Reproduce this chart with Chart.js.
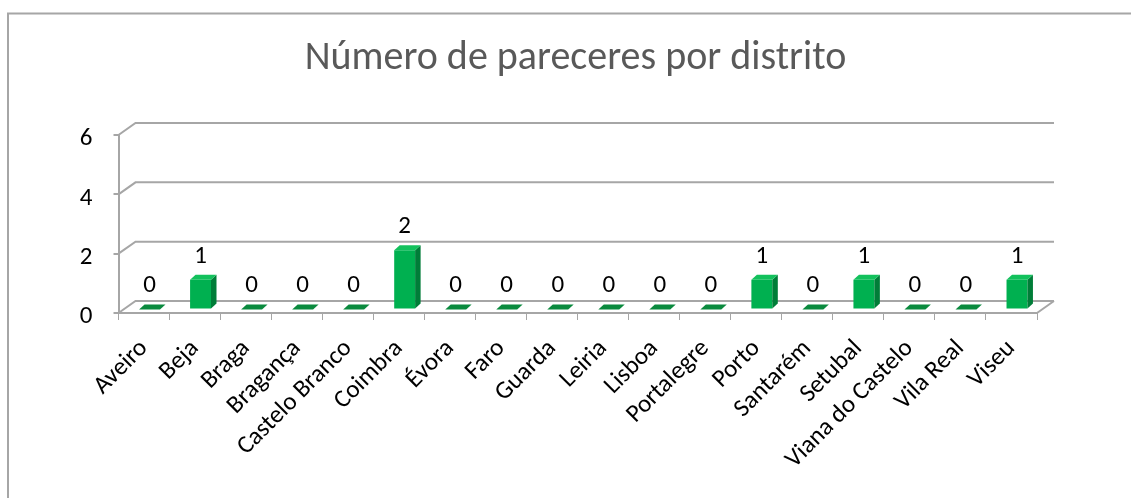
<!DOCTYPE html>
<html><head><meta charset="utf-8">
<script src="https://cdn.jsdelivr.net/npm/chart.js@4"></script>
<style>html,body{margin:0;padding:0;background:#fff;overflow:hidden}#wrap{position:relative;width:1131px;height:498px}</style>
</head><body><div id="wrap"><canvas id="c" width="1131" height="498"></canvas></div>
<script>
const categories = ['Aveiro','Beja','Braga','Bragança','Castelo Branco','Coimbra','Évora','Faro','Guarda','Leiria','Lisboa','Portalegre','Porto','Santarém','Setubal','Viana do Castelo','Vila Real','Viseu'];
const pareceres = [0,1,0,0,0,2,0,0,0,0,0,0,1,0,1,0,0,1];
const yTicks = [0,2,4,6];
const titleText = 'Número de pareceres por distrito';

const FONT = "Calibri, Carlito, 'Open Sans', sans-serif";
const GRID = '#a6a6a6';
const WALL = {dx: 17, dy: -12};
const BAR = {ox: 5.5, oy: -3.5, dx: 5.5, dy: -5};

const threeD = {
  id: 'threeD',
  beforeDraw(chart) {
    const ctx = chart.ctx, a = chart.chartArea, y = chart.scales.y;
    ctx.save();
    ctx.fillStyle = '#fff';
    ctx.fillRect(0, 0, chart.width, chart.height);
    ctx.strokeStyle = '#a6a6a6';
    ctx.lineWidth = 2;
    ctx.beginPath();
    ctx.moveTo(8, chart.height + 5); ctx.lineTo(8, 13.5); ctx.lineTo(chart.width + 5, 13.5);
    ctx.stroke();
    // title
    ctx.fillStyle = '#595959';
    ctx.font = "40px " + FONT;
    ctx.textAlign = 'center';
    ctx.textBaseline = 'alphabetic';
    ctx.fillText(titleText, 575.5, 69);
    // walls
    ctx.strokeStyle = GRID;
    ctx.lineWidth = 2;
    ctx.beginPath();
    yTicks.forEach(v => {
      const py = y.getPixelForValue(v);
      ctx.moveTo(a.left, py); ctx.lineTo(a.left + WALL.dx, py + WALL.dy);
      ctx.lineTo(a.right + WALL.dx, py + WALL.dy);
    });
    ctx.moveTo(a.right, a.bottom); ctx.lineTo(a.right + WALL.dx, a.bottom + WALL.dy);
    ctx.stroke();
    ctx.restore();
  },
  beforeDatasetsDraw(chart) {
    chart.ctx.save();
    chart.ctx.translate(BAR.ox, BAR.oy);
  },
  afterDatasetsDraw(chart) {
    const ctx = chart.ctx;
    const meta = chart.getDatasetMeta(0);
    const data = chart.data.datasets[0].data;
    meta.data.forEach((bar, i) => {
      const w = bar.width, l = bar.x - w / 2, r = bar.x + w / 2, t = bar.y, b = bar.base;
      if (data[i] > 0) {
        ctx.fillStyle = '#007d38';
        ctx.beginPath();
        ctx.moveTo(r, t); ctx.lineTo(r + BAR.dx, t + BAR.dy); ctx.lineTo(r + BAR.dx, b + BAR.dy); ctx.lineTo(r, b);
        ctx.closePath(); ctx.fill();
        ctx.fillStyle = '#12c15c';
      } else {
        ctx.fillStyle = '#0a8a3e';
      }
      ctx.beginPath();
      ctx.moveTo(l, t); ctx.lineTo(l + BAR.dx, t + BAR.dy); ctx.lineTo(r + BAR.dx, t + BAR.dy); ctx.lineTo(r, t);
      ctx.closePath(); ctx.fill();
    });
    ctx.restore();
    ctx.save();
    ctx.fillStyle = '#000';
    ctx.font = "25px " + FONT;
    ctx.textAlign = 'center';
    ctx.textBaseline = 'middle';
    meta.data.forEach((bar, i) => {
      ctx.fillText(String(data[i]), bar.x + BAR.ox, bar.y + BAR.oy - 23.5);
    });
    ctx.restore();
  }
};

new Chart(document.getElementById('c'), {
  type: 'bar',
  data: {
    labels: categories,
    datasets: [{
      data: pareceres,
      backgroundColor: '#00b050',
      borderWidth: 0,
      barPercentage: 0.41,
      categoryPercentage: 1
    }]
  },
  options: {
    responsive: false,
    animation: false,
    devicePixelRatio: 1,
    layout: {padding: {left: 0, right: 94, top: 135, bottom: 0}},
    plugins: {
      legend: {display: false},
      tooltip: {enabled: false},
      title: {display: false}
    },
    scales: {
      x: {
        offset: true,
        grid: {offset: true, drawOnChartArea: false, drawTicks: true, tickLength: 7, color: GRID, lineWidth: 1},
        border: {display: true, color: GRID, width: 2},
        ticks: {autoSkip: false, minRotation: 45, maxRotation: 45, padding: 14, color: '#000', font: {family: FONT, size: 25}},
        afterFit(s) { s.height = 185; }
      },
      y: {
        min: 0, max: 6,
        afterBuildTicks(s) { s.ticks = yTicks.map(v => ({value: v})); },
        grid: {drawOnChartArea: false, drawTicks: true, tickLength: 5, color: GRID, lineWidth: 2},
        border: {display: true, color: GRID, width: 2},
        ticks: {padding: 21, labelOffset: 4, color: '#000', font: {family: FONT, size: 25}},
        afterFit(s) { s.width = 118.5; }
      }
    }
  },
  plugins: [threeD]
});
</script>
</body></html>
